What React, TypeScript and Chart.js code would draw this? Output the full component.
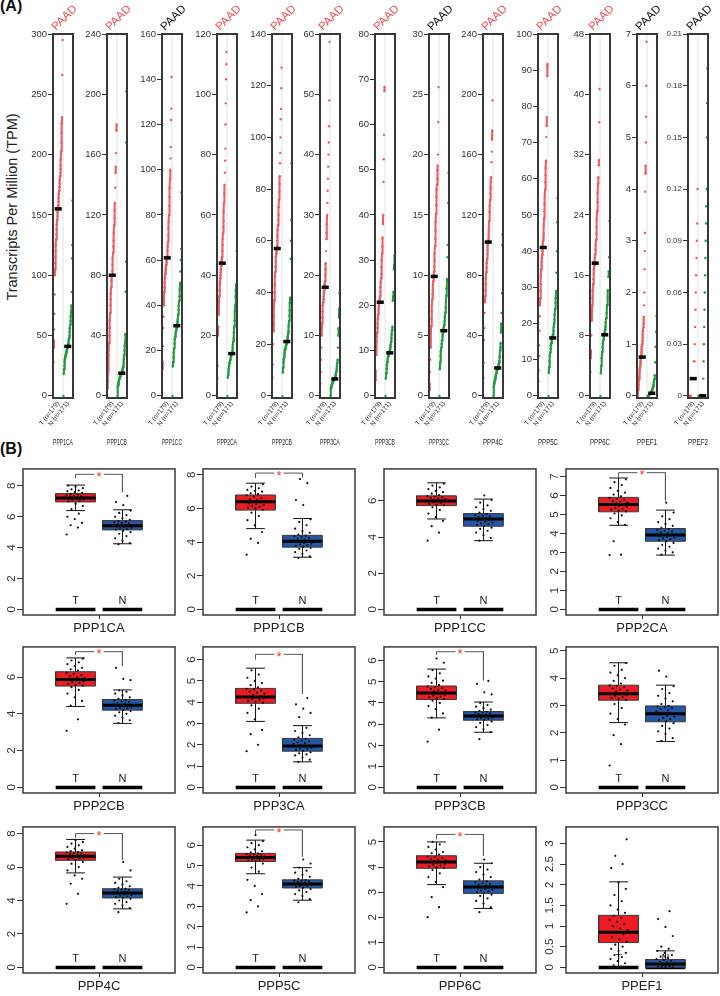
import React, { useEffect, useRef } from "react";
import { Chart, registerables } from "chart.js";
Chart.register(...registerables);

const FONT = "'Liberation Sans', Arial, Helvetica, sans-serif";
Chart.defaults.font.family = FONT;

// ---------------- Panel A data ----------------
const genesA = ["PPP1CA","PPP1CB","PPP1CC","PPP2CA","PPP2CB","PPP3CA","PPP3CB","PPP3CC","PPP4C","PPP5C","PPP6C","PPEF1","PPEF2"];
const sigA = [true,true,false,true,true,true,true,false,true,true,true,false,false];
const cancerA = "PAAD";
const yMaxA = [300,240,160,120,140,60,80,30,240,100,48,7,0.21];
const yStepA = [50,40,20,20,20,10,10,5,40,10,8,1,0.03];
const tickLabelsA = ["T (n=179)", "N (n=171)"];
const medianTA = [155,80,61,44,57,18,20.7,9.9,102,41,17.6,0.75,0.01];
const medianNA = [41,15,31,14,21,2.8,9.5,5.4,18.5,16,8.1,0.05,0];
const tumorA: number[][] = [
  [28,40,46,55,68,84,100,105,110,115,120,125,130,134,138,142,146,149,152,154,156,158,161,164,167,170,173,176,179,182,185,188,191,196,203,210,218,226,231,266,295],
  [5,10,16,22,27,31,35,40,45,50,55,60,64,68,72,76,78,80,83,87,91,95,99,103,108,113,118,123,128,138,148,152,161,176,180],
  [12,15,22,30,35,40,43,46,48,50,52,54,55,56,57,58,59,60,61,62,64,66,68,71,74,77,80,84,88,92,96,100,105,110,122,127,141],
  [6,10,20,23,27,29,31,33,35,37,38,39,40,41,42,43,44,45,46,48,50,52,54,56,58,61,64,67,70,74,78,82,90,97,105,110,114],
  [7,12,20,25,28,31,34,37,40,43,46,48,50,52,54,55,56,57,58,60,62,64,66,68,70,73,76,79,82,85,90,94,100,107,111,119,127],
  [2,4,6,8,10,11,12,13,14,15,15.5,16,16.5,17,17.5,18,18.5,19,20,21,22,24,26,27,28.5,30,32,34,36,38,40,42,44.7,49,58.7],
  [3.5,5.5,9,10.5,12,13,14,15,16,17,18,19,19.5,20,20.5,21,21.5,22,23,24,25,26,27,28.5,30,31.5,33,35,38,40,47.3,52.3,57.7,67.4,68.3],
  [0.5,1,2,3,4,4.6,5.2,5.8,6.4,7,7.5,8,8.4,8.8,9.2,9.5,9.8,10,10.3,10.7,11.2,11.8,12.4,13,13.7,14.4,15.1,15.8,16.5,17.1,17.5,18,18.7,19.1,20,22.7,25.6],
  [12,22,37,45,55,62,66,70,74,78,82,85,88,91,94,97,100,102,104,107,110,116,122,126,130,134,138,142,145,155,162,170,176,196],
  [4,7,11,14,18,22,25,27,29,31,33,35,36,37,38,39,40,41,42,43,44,45,47,49,51,53,55,57,59,61,63,65,71.5,74.6,77,88.4,91,91.7],
  [3.2,5,6,8,10,11,12,13,14,14.8,15.5,16.2,16.8,17.3,17.8,18.3,18.8,19.4,20,20.7,21.5,22.4,23.4,24.5,25.7,27,28.2,29,30.6,31.3,36.3,40.7],
  [0,0.03,0.07,0.12,0.17,0.22,0.27,0.32,0.37,0.42,0.47,0.52,0.57,0.62,0.67,0.72,0.76,0.8,0.85,0.9,0.95,1.0,1.06,1.12,1.18,1.25,1.32,1.4,1.47,1.53,1.75,2.0,2.45,2.8,3.15,3.95,4.3,4.45,4.9,5.4,6.0,6.85],
  [0,0,0,0,0,0,0,0,0.01,0.01,0.01,0.01,0.01,0.01,0.01,0.01,0.02,0.02,0.03,0.04,0.05,0.06,0.07,0.08,0.09,0.1,0.12],
];
const normalA: number[][] = [
  [0,18,22,25,28,30,32,33,34,35,36,37,38,39,40,41,42,43,44,46,48,50,53,56,59,62,66,70,75,86,114,125,162],
  [0,6,7,8,9,10,11,12,12,13,13,14,14,15,15,16,16,17,18,19,20,22,24,27,30,33,36,41,69,89,168,202],
  [0,13,15,17,19,21,23,25,26,27,28,29,30,31,32,33,34,36,38,40,42,44,47,50,55,60,65,90],
  [0,6,7,8,9,10,11,11,12,12,13,13,14,14,14,15,16,17,18,19,21,23,25,28,30,33,35,37,48],
  [0,9,11,13,14,15,16,17,18,18,19,19,20,20,21,21,22,23,24,25,27,29,31,33,36,38,53,60,68,90],
  [0,1.2,1.4,1.6,1.8,2.0,2.2,2.3,2.4,2.5,2.6,2.7,2.8,2.9,3.0,3.2,3.4,3.7,4.0,4.4,4.9,5.5,6.0,8.0,10.0,11.2,13.0,14.5,17.0],
  [0,3.8,5,6,6.8,7.4,8,8.4,8.8,9.1,9.4,9.7,10,10.4,10.8,11.3,12,12.8,13.6,14.5,15.3,21,22,23,28,29,31],
  [0,2.2,2.8,3.3,3.7,4.0,4.3,4.6,4.9,5.1,5.3,5.5,5.7,5.9,6.2,6.5,6.9,7.3,7.8,8.3,8.9,9.7,11.5,12.5,16,18.5],
  [0,6,8,9,10,11,12,13,14,15,16,17,17.5,18,18.5,19,20,21,22,23,26,30,32,35,42,48,55,68,100,107],
  [0,6.3,8,9.5,11,12,13,14,14.5,15,15.5,16,16.5,17,18,19,20,21,22.5,24,25.7,27,29,34,40,48,54.7],
  [0,3,4,5,5.8,6.4,7,7.4,7.8,8.1,8.4,8.8,9.2,9.7,10.3,11,12,13,14,15.8,16.5,18.4,23.2],
  [0,0,0,0.01,0.02,0.03,0.04,0.05,0.06,0.08,0.1,0.12,0.15,0.18,0.22,0.27,0.32,0.4,0.65,0.95,1.24,1.55],
  [0,0,0,0,0,0,0,0,0,0,0,0,0,0,0,0,0.01,0.02,0.03,0.04,0.05,0.06,0.07,0.08,0.09,0.1,0.11,0.12,0.15,0.17,0.19],
];

// ---------------- Panel B data ----------------
const genesB = ["PPP1CA","PPP1CB","PPP1CC","PPP2CA","PPP2CB","PPP3CA","PPP3CB","PPP3CC","PPP4C","PPP5C","PPP6C","PPEF1"];
const sigB = [true,true,false,true,true,true,true,false,true,true,true,false];
const groupLabelsB = ["T", "N"];
const yMaxB = [9.1,8.35,7.77,7.4,7.64,6.6,6.65,5.14,8.4,6.9,5.6,3.4];
const yStepB = [2,2,2,1,2,1,1,1,2,1,1,0.5];
// [lower whisker, Q1, median, Q3, upper whisker]
const boxTB = [[6.4,6.96,7.22,7.5,8.05],[4.8,5.9,6.4,6.8,7.5],[5.0,5.74,6.0,6.28,7.0],[4.43,5.14,5.52,5.9,6.92],[4.4,5.51,5.87,6.29,7.04],[3.1,3.95,4.25,4.65,5.6],[3.29,4.16,4.47,4.8,5.6],[2.37,3.19,3.43,3.74,4.56],[5.65,6.4,6.65,6.9,7.65],[4.6,5.2,5.4,5.6,6.25],[3.3,3.95,4.2,4.45,5.0],[0,0.6,0.85,1.26,2.07]];
const boxNB = [[4.25,5.15,5.42,5.75,6.45],[3.1,3.7,4.05,4.4,5.4],[3.8,4.6,5.0,5.3,6.1],[2.86,3.59,3.92,4.26,5.23],[3.48,4.2,4.47,4.78,5.3],[1.2,1.7,1.95,2.3,2.9],[2.61,3.18,3.38,3.59,4.04],[1.68,2.4,2.69,2.98,3.74],[3.5,4.15,4.45,4.7,5.4],[3.3,3.9,4.1,4.3,4.9],[2.35,2.95,3.2,3.45,4.15],[0,0,0.08,0.19,0.4]];
// [bracket top, left end, right end]
const bracketB: (number[] | null)[] = [[8.75,8.5,7.6],[8.1,7.8,7.85],null,[7.2,6.93,5.74],[7.38,7.2,6.6],[6.25,6.0,4.4],[6.42,6.27,5.07],null,[8.0,7.75,6.45],[6.75,6.55,5.45],[5.3,5.1,4.45],null];
const ptsTB: number[][] = [
  [4.85,5.3,5.45,5.6,5.85,6.0,6.2,6.5,6.7,6.85,7.0,7.05,7.1,7.12,7.15,7.18,7.2,7.22,7.25,7.28,7.3,7.33,7.36,7.4,7.44,7.48,7.55,7.6,7.65,7.7,7.78,7.85,7.95,8.02],
  [3.25,3.95,4.2,4.6,5.0,5.3,5.55,5.75,5.92,6.0,6.05,6.1,6.15,6.2,6.25,6.3,6.35,6.4,6.45,6.5,6.55,6.6,6.7,6.78,6.85,6.9,7.0,7.05,7.1,7.2,7.3,7.45],
  [3.8,4.25,4.6,4.9,5.1,5.3,5.5,5.65,5.76,5.8,5.84,5.88,5.92,5.95,5.98,6.0,6.03,6.06,6.1,6.13,6.17,6.2,6.23,6.26,6.32,6.4,6.48,6.55,6.65,6.75,6.85,6.95],
  [2.86,2.88,3.59,4.45,4.6,4.8,4.95,5.05,5.16,5.2,5.25,5.3,5.35,5.4,5.45,5.5,5.54,5.58,5.62,5.67,5.72,5.77,5.82,5.87,5.95,6.05,6.15,6.25,6.4,6.55,6.7,6.85],
  [3.08,3.7,4.45,4.7,4.9,5.1,5.3,5.45,5.53,5.58,5.63,5.68,5.72,5.76,5.8,5.84,5.88,5.92,5.96,6.0,6.05,6.1,6.16,6.24,6.35,6.42,6.5,6.6,6.7,6.8,6.9,7.0],
  [1.7,2.0,2.5,2.7,3.2,3.5,3.7,3.85,3.98,4.02,4.06,4.1,4.14,4.18,4.22,4.26,4.3,4.35,4.4,4.45,4.5,4.55,4.6,4.63,4.7,4.8,4.9,5.0,5.15,5.3,5.5],
  [2.17,2.73,3.3,3.5,3.7,3.85,4.0,4.1,4.18,4.22,4.26,4.3,4.34,4.38,4.42,4.46,4.5,4.54,4.58,4.62,4.66,4.7,4.74,4.78,4.85,4.95,5.05,5.15,5.25,5.4,5.55,5.9,6.1],
  [0.8,1.58,1.91,2.3,2.5,2.7,2.9,3.05,3.2,3.24,3.28,3.3,3.34,3.37,3.4,3.43,3.46,3.5,3.54,3.58,3.62,3.66,3.7,3.73,3.8,3.9,4.0,4.1,4.2,4.3,4.45,4.55],
  [3.8,4.4,5.0,5.3,5.5,5.8,6.0,6.2,6.3,6.42,6.46,6.5,6.53,6.56,6.6,6.63,6.66,6.69,6.72,6.75,6.78,6.81,6.84,6.87,6.89,6.95,7.0,7.1,7.2,7.3,7.4,7.5,7.6],
  [2.7,3.0,3.3,3.6,4.0,4.3,4.7,4.9,5.1,5.22,5.25,5.28,5.3,5.32,5.35,5.37,5.4,5.42,5.44,5.47,5.5,5.52,5.55,5.57,5.59,5.65,5.7,5.8,5.9,6.0,6.1,6.2,6.5],
  [2.0,2.4,2.8,3.2,3.4,3.6,3.75,3.88,3.97,4.0,4.03,4.06,4.09,4.12,4.15,4.18,4.21,4.24,4.27,4.3,4.33,4.36,4.39,4.42,4.5,4.55,4.6,4.7,4.8,4.9,5.0],
  [0,0.02,0.05,0.1,0.15,0.2,0.25,0.3,0.35,0.4,0.45,0.5,0.55,0.62,0.68,0.74,0.8,0.85,0.9,0.95,1.0,1.05,1.1,1.15,1.2,1.25,1.32,1.4,1.5,1.6,1.75,1.9,2.05,2.4,2.5,2.7,3.1],
];
const ptsNB: number[][] = [
  [4.22,4.3,4.45,4.6,4.75,4.9,5.0,5.1,5.17,5.2,5.25,5.28,5.32,5.35,5.38,5.4,5.44,5.48,5.52,5.56,5.6,5.64,5.68,5.72,5.8,5.9,6.0,6.1,6.25,6.4,6.75,6.95,7.35],
  [3.05,3.15,3.3,3.4,3.5,3.6,3.65,3.72,3.78,3.82,3.86,3.9,3.95,4.0,4.03,4.07,4.1,4.15,4.2,4.25,4.3,4.35,4.38,4.45,4.55,4.65,4.8,5.0,5.2,5.35,6.2,6.5,7.5,7.75],
  [3.8,3.95,4.1,4.25,4.35,4.45,4.52,4.62,4.67,4.72,4.76,4.8,4.85,4.9,4.94,4.98,5.02,5.06,5.1,5.14,5.18,5.22,5.27,5.35,5.45,5.55,5.65,5.75,5.9,6.05,6.3],
  [2.88,3.0,3.1,3.2,3.3,3.4,3.5,3.6,3.65,3.7,3.74,3.78,3.82,3.86,3.9,3.94,3.98,4.02,4.06,4.1,4.14,4.18,4.23,4.3,4.4,4.5,4.6,4.75,4.9,5.1,5.62],
  [3.5,3.65,3.8,3.9,4.0,4.08,4.15,4.22,4.26,4.3,4.33,4.36,4.4,4.43,4.46,4.49,4.52,4.56,4.6,4.64,4.68,4.72,4.76,4.82,4.9,5.0,5.1,5.2,5.28,5.83,5.9,6.5],
  [1.2,1.3,1.4,1.5,1.55,1.6,1.65,1.72,1.76,1.8,1.83,1.86,1.9,1.93,1.96,2.0,2.04,2.08,2.12,2.16,2.2,2.24,2.28,2.35,2.45,2.55,2.65,2.8,3.3,3.5,3.7,3.9,4.2],
  [2.28,2.62,2.75,2.85,2.95,3.05,3.12,3.2,3.22,3.25,3.28,3.3,3.33,3.35,3.37,3.4,3.42,3.45,3.48,3.5,3.53,3.55,3.58,3.62,3.68,3.75,3.82,3.9,4.0,4.4,4.5,4.9,5.04],
  [1.7,1.8,1.95,2.05,2.15,2.25,2.35,2.42,2.46,2.5,2.54,2.58,2.62,2.66,2.7,2.74,2.78,2.82,2.86,2.9,2.93,2.96,2.98,3.05,3.15,3.25,3.35,3.45,3.6,3.7,4.05,4.27],
  [3.3,3.55,3.7,3.8,3.9,4.0,4.1,4.17,4.2,4.24,4.28,4.32,4.36,4.4,4.44,4.47,4.5,4.54,4.58,4.62,4.65,4.68,4.7,4.75,4.85,4.95,5.05,5.15,5.3,5.8,6.3],
  [3.2,3.35,3.5,3.6,3.7,3.78,3.85,3.92,3.95,3.98,4.0,4.03,4.05,4.08,4.1,4.12,4.15,4.18,4.2,4.23,4.25,4.27,4.29,4.35,4.45,4.55,4.65,4.75,4.9,5.1,5.3],
  [2.2,2.4,2.55,2.65,2.75,2.85,2.9,2.97,3.0,3.03,3.06,3.09,3.12,3.15,3.18,3.21,3.24,3.27,3.3,3.33,3.36,3.39,3.43,3.5,3.6,3.7,3.8,3.9,4.0,4.15,4.3],
  [0,0,0.01,0.02,0.03,0.04,0.05,0.06,0.07,0.08,0.09,0.1,0.12,0.14,0.16,0.18,0.2,0.23,0.26,0.3,0.35,0.4,0.45,0.5,0.76,0.98,1.17,1.36],
];

// ---------------- layout / style ----------------
const stripLeft = [53,107,162,217,272,320,375,429,483,538,590,637,688];
const colLeft = [23,203,384,566];
const rowTop = [462,640,820];
const RED_A = "#ee5c60";
const GREEN_A = "#1f9c3c";
const RED_B = "#ec1c24";
const BLUE_B = "#2457a6";

const fmt = (v: number) => String(Number(Number(v).toFixed(3)));

const framePlugin = (color: string, width: number) => ({
  id: "frame",
  afterDraw(chart: any) {
    const { ctx, chartArea: a } = chart;
    ctx.save();
    ctx.strokeStyle = color;
    ctx.lineWidth = width;
    ctx.strokeRect(a.left, a.top, a.right - a.left, a.bottom - a.top);
    ctx.restore();
  },
});

function stripConfig(i: number): any {
  const max = yMaxA[i];
  const step = yStepA[i];
  const min = -max * 0.006;
  const ticks: number[] = [];
  for (let k = 0; k * step <= max + 1e-9; k++) ticks.push(Number((k * step).toFixed(4)));
  const rank = (arr: number[], x0: number, x1: number) =>
    arr.map((v, k) => ({ x: x0 + (k / Math.max(1, arr.length - 1)) * (x1 - x0), y: v }));
  const seg = (col: string) => (c: any) => {
    const dy = Math.abs(c.p1.y - c.p0.y);
    return dy > 0.2 && dy <= 10 ? col : "rgba(0,0,0,0)";
  };
  const line = (pts: any[], color: string, w: number, order: number) => ({
    data: pts, showLine: true, borderColor: color, borderWidth: w, pointRadius: 0, order,
  });
  const decimals = step < 1;
  const titlePlugin = {
    id: "rotTitle",
    afterDraw(chart: any) {
      const { ctx, chartArea: a } = chart;
      ctx.save();
      ctx.translate(a.left + 3, a.top - 3);
      ctx.rotate(-Math.PI / 4);
      ctx.font = `11.5px ${FONT}`;
      ctx.fillStyle = sigA[i] ? "#ee4e55" : "#111";
      ctx.textAlign = "left";
      ctx.textBaseline = "alphabetic";
      ctx.fillText(cancerA, 0, 0);
      ctx.restore();
    },
  };
  return {
    type: "scatter",
    data: {
      datasets: [
        line([{ x: 1.5, y: min }, { x: 1.5, y: max }], "#e2e2e2", 1, 20),
        {
          data: rank(tumorA[i], 0.5, 1.45), showLine: true, borderColor: RED_A, borderWidth: 2,
          pointRadius: 1.2, pointBackgroundColor: RED_A, pointBorderWidth: 0,
          segment: { borderColor: seg(RED_A) }, order: 5,
        },
        {
          data: rank(normalA[i], 1.55, 2.5), showLine: true, borderColor: GREEN_A, borderWidth: 2,
          pointRadius: 1.2, pointBackgroundColor: GREEN_A, pointBorderWidth: 0,
          segment: { borderColor: seg(GREEN_A) }, order: 5,
        },
        line([{ x: 0.63, y: medianTA[i] }, { x: 1.37, y: medianTA[i] }], "#000", 3.5, 1),
        line([{ x: 1.63, y: medianNA[i] }, { x: 2.37, y: medianNA[i] }], "#000", 3.5, 1),
      ],
    },
    options: {
      responsive: false, animation: false, devicePixelRatio: 1, events: [],
      layout: { padding: { top: 34, right: 30, left: 0, bottom: 0 } },
      plugins: { legend: { display: false }, tooltip: { enabled: false } },
      scales: {
        x: {
          type: "linear", min: 0.45, max: 2.55,
          afterFit: (s: any) => { s.height = 54; },
          afterBuildTicks: (s: any) => { s.ticks = [{ value: 1 }, { value: 2 }]; },
          ticks: {
            callback: (v: number) => (v === 1 ? tickLabelsA[0] : tickLabelsA[1]),
            minRotation: 52, maxRotation: 52, autoSkip: false,
            font: { size: 6.5 }, color: "#222", padding: 2,
          },
          grid: { display: false, drawTicks: false },
          border: { display: false },
          title: { display: true, text: genesA[i], font: { size: 8.5 }, color: "#222", padding: { top: 0, bottom: 4 } },
        },
        y: {
          type: "linear", min, max,
          afterFit: (s: any) => { s.width = 40; },
          afterBuildTicks: (s: any) => { s.ticks = ticks.map((v) => ({ value: v })); },
          ticks: { callback: (v: number) => fmt(v), autoSkip: false, font: { size: decimals && max < 1 ? 8 : 9.5 }, color: "#333", padding: 1 },
          grid: { drawOnChartArea: false, drawTicks: true, tickLength: 5, color: "#333", lineWidth: 1 },
          border: { display: false },
        },
      },
    },
    plugins: [framePlugin("#383838", 2), titlePlugin],
  };
}

function boxConfig(j: number): any {
  const max = yMaxB[j];
  const min = -max * 0.04;
  const step = yStepB[j];
  const ticks: number[] = [];
  for (let k = 0; k * step <= max + 1e-9; k++) ticks.push(Number((k * step).toFixed(4)));
  const HW = 0.4235;
  const jitter = (k: number) => ((((k * 37) % 23) / 22) - 0.5) * 0.38;
  const line = (pts: any[], color: string, w: number, order: number) => ({
    data: pts, showLine: true, borderColor: color, borderWidth: w, pointRadius: 0, order,
  });
  const ds: any[] = [];
  [boxTB[j], boxNB[j]].forEach((b, g) => {
    const c = g + 1;
    const col = g === 0 ? RED_B : BLUE_B;
    const [lo, q1, md, q3, hi] = b;
    ds.push(line([{ x: c - HW, y: 0 }, { x: c + HW, y: 0 }], "#000", 3.5, 30));
    ds.push(line([{ x: c, y: lo }, { x: c, y: hi }], "#111", 1, 25));
    ds.push(line([{ x: c - 0.2, y: hi }, { x: c + 0.2, y: hi }], "#111", 1, 25));
    ds.push(line([{ x: c - 0.2, y: lo }, { x: c + 0.2, y: lo }], "#111", 1, 25));
    ds.push(line([{ x: c, y: q1 }, { x: c, y: q3 }], col, 40, 20));
    ds.push(line([{ x: c - HW, y: q1 }, { x: c + HW, y: q1 }, { x: c + HW, y: q3 }, { x: c - HW, y: q3 }, { x: c - HW, y: q1 }], "#3a3a3a", 1, 15));
    ds.push(line([{ x: c - HW, y: md }, { x: c + HW, y: md }], "#000", 3, 10));
    const pts = (g === 0 ? ptsTB[j] : ptsNB[j]).map((v, k) => ({ x: c + jitter(k + g * 7), y: v }));
    ds.push({ data: pts, showLine: false, pointRadius: 1.1, pointBackgroundColor: "#111", pointBorderWidth: 0, order: 2 });
  });
  const br = bracketB[j];
  if (br) {
    ds.push(line([{ x: 1, y: br[1] }, { x: 1, y: br[0] }, { x: 1.4, y: br[0] }], "#555", 1, 3));
    ds.push(line([{ x: 1.6, y: br[0] }, { x: 2, y: br[0] }, { x: 2, y: br[2] }], "#555", 1, 3));
  }
  const textPlugin = {
    id: "boxText",
    beforeDatasetsDraw(chart: any) {
      const { ctx, scales } = chart;
      const x = scales.x, y = scales.y;
      ctx.save();
      ctx.font = `11px ${FONT}`;
      ctx.fillStyle = "#222";
      ctx.textAlign = "center";
      ctx.textBaseline = "bottom";
      ctx.fillText(groupLabelsB[0], x.getPixelForValue(1), y.getPixelForValue(0) - 3);
      ctx.fillText(groupLabelsB[1], x.getPixelForValue(2), y.getPixelForValue(0) - 3);
      ctx.restore();
    },
    afterDatasetsDraw(chart: any) {
      if (!br || !sigB[j]) return;
      const { ctx, scales } = chart;
      ctx.save();
      ctx.font = `13px ${FONT}`;
      ctx.fillStyle = "#ff2a2a";
      ctx.textAlign = "center";
      ctx.textBaseline = "middle";
      ctx.fillText("*", scales.x.getPixelForValue(1.5), scales.y.getPixelForValue(br[0]) + 3);
      ctx.restore();
    },
  };
  return {
    type: "scatter",
    data: { datasets: ds },
    options: {
      responsive: false, animation: false, devicePixelRatio: 1, events: [],
      layout: { padding: { top: 2, right: 3, left: 0, bottom: 0 } },
      plugins: { legend: { display: false }, tooltip: { enabled: false } },
      scales: {
        x: {
          type: "linear", min: -0.12, max: 3.12,
          afterFit: (s: any) => { s.height = 22; },
          afterBuildTicks: (s: any) => { s.ticks = [{ value: 1.5 }]; },
          ticks: { callback: () => "", autoSkip: false, padding: 0, font: { size: 1 } },
          grid: { drawOnChartArea: false, drawTicks: true, tickLength: 4, color: "#333" },
          border: { display: false },
          title: { display: true, text: genesB[j], font: { size: 13 }, color: "#222", padding: { top: 0, bottom: 1 } },
        },
        y: {
          type: "linear", min, max,
          afterFit: (s: any) => { s.width = 23; },
          afterBuildTicks: (s: any) => { s.ticks = ticks.map((v) => ({ value: v })); },
          ticks: {
            callback: (v: number) => fmt(v), autoSkip: false, minRotation: 90, maxRotation: 90,
            crossAlign: "center", font: { size: 11.5 }, color: "#333", padding: 2,
          },
          grid: { drawOnChartArea: false, drawTicks: true, tickLength: 6, color: "#333" },
          border: { display: false },
        },
      },
    },
    plugins: [framePlugin("#3a3a3a", 1.5), textPlugin],
  };
}

function ChartCanvas(props: { make: () => any; left: number; top: number; width: number; height: number }) {
  const ref = useRef<HTMLCanvasElement>(null);
  useEffect(() => {
    const chart = new Chart(ref.current as HTMLCanvasElement, props.make());
    return () => chart.destroy();
  }, []);
  return (
    <canvas
      ref={ref}
      width={props.width}
      height={props.height}
      style={{ position: "absolute", left: props.left, top: props.top, width: props.width, height: props.height }}
    />
  );
}

export default function App() {
  useEffect(() => {
    document.body.style.margin = "0";
  }, []);
  return (
    <div style={{ position: "absolute", left: 0, top: 0, width: 720, height: 996, background: "#fff", overflow: "hidden", fontFamily: FONT }}>
      <div style={{ position: "absolute", left: 0, top: -3, fontSize: 16, fontWeight: "bold", color: "#111" }}>(A)</div>
      <div style={{ position: "absolute", left: 0, top: 440, fontSize: 16, fontWeight: "bold", color: "#111" }}>(B)</div>
      <div
        style={{
          position: "absolute", left: 12, top: 207, transform: "translate(-50%,-50%) rotate(-90deg)",
          fontSize: 14.5, whiteSpace: "nowrap", color: "#222",
        }}
      >
        Transcripts Per Million (TPM)
      </div>
      {genesA.map((g, i) => (
        <ChartCanvas key={"a" + g} make={() => stripConfig(i)} left={stripLeft[i] - 40} top={0} width={90} height={452} />
      ))}
      {genesB.map((g, j) => (
        <ChartCanvas
          key={"b" + g}
          make={() => boxConfig(j)}
          left={colLeft[j % 4] - 23}
          top={rowTop[Math.floor(j / 4)] - 2}
          width={179}
          height={177}
        />
      ))}
    </div>
  );
}
